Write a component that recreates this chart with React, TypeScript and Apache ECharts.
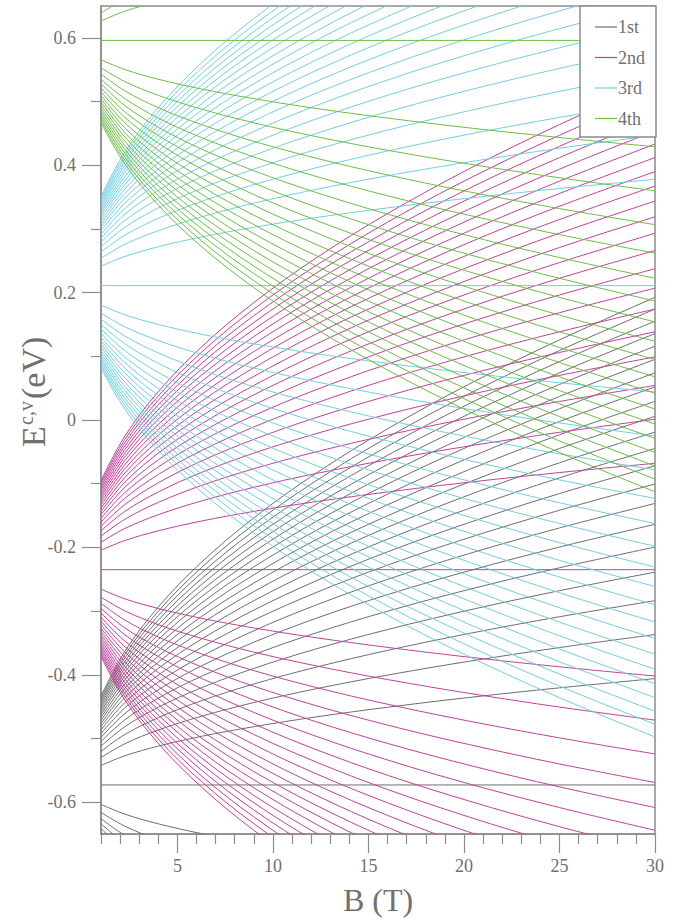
import React, { useEffect, useRef } from "react";
import * as echarts from "echarts";

// Magnetic field values at which each Landau level is sampled (T)
const FIELD_T = [1, 2.25, 4, 6.25, 9, 12.25, 16, 20.25, 25, 30];

// Distance of level n = 1, 2, 3, ... from its band's n = 0 level (eV), at each FIELD_T value
const LEVEL_OFFSETS = [
  [0.0305, 0.0458, 0.061, 0.0763, 0.0915, 0.1068, 0.122, 0.1373, 0.1525, 0.167],
  [0.0431, 0.0647, 0.0863, 0.1078, 0.1294, 0.151, 0.1725, 0.1941, 0.2157, 0.2362],
  [0.0528, 0.0792, 0.1057, 0.1321, 0.1585, 0.1849, 0.2113, 0.2377, 0.2641, 0.2893],
  [0.061, 0.0915, 0.122, 0.1525, 0.183, 0.2135, 0.244, 0.2745, 0.305, 0.3341],
  [0.0682, 0.1023, 0.1364, 0.1705, 0.2046, 0.2387, 0.2728, 0.3069, 0.341, 0.3735],
  [0.0747, 0.1121, 0.1494, 0.1868, 0.2241, 0.2615, 0.2988, 0.3362, 0.3735, 0.4092],
  [0.0807, 0.121, 0.1614, 0.2017, 0.2421, 0.2824, 0.3228, 0.3631, 0.4035, 0.442],
  [0.0863, 0.1294, 0.1725, 0.2157, 0.2588, 0.3019, 0.3451, 0.3882, 0.4313, 0.4725],
  [0.0915, 0.1373, 0.183, 0.2288, 0.2745, 0.3203, 0.366, 0.4118, 0.4575, 0.5011],
  [0.0964, 0.1447, 0.1929, 0.2411, 0.2893, 0.3376, 0.3858, 0.434, 0.4822, 0.5282],
  [0.1012, 0.1517, 0.2023, 0.2529, 0.3035, 0.354, 0.4046, 0.4552, 0.5058, 0.554],
  [0.1057, 0.1585, 0.2113, 0.2641, 0.317, 0.3698, 0.4226, 0.4754, 0.5283, 0.5787],
  [0.11, 0.165, 0.2199, 0.2749, 0.3299, 0.3849, 0.4399, 0.4949, 0.5498, 0.6023],
  [0.1141, 0.1712, 0.2282, 0.2853, 0.3424, 0.3994, 0.4565, 0.5135, 0.5706, 0.625],
  [0.1181, 0.1772, 0.2363, 0.2953, 0.3544, 0.4134, 0.4725, 0.5316, 0.5906, 0.647],
  [0.122, 0.183, 0.244, 0.305, 0.366, 0.427, 0.488, 0.549, 0.61, 0.6682],
  [0.1258, 0.1886, 0.2515, 0.3144, 0.3773, 0.4401, 0.503, 0.5659, 0.6288, 0.6888],
  [0.1294, 0.1941, 0.2588, 0.3235, 0.3882, 0.4529, 0.5176, 0.5823, 0.647, 0.7087],
  [0.1329, 0.1994, 0.2659, 0.3324, 0.3988, 0.4653, 0.5318, 0.5983, 0.6647, 0.7281],
  [0.1364, 0.2046, 0.2728, 0.341, 0.4092, 0.4774, 0.5456, 0.6138, 0.682, 0.7471],
  [0.1398, 0.2097, 0.2795, 0.3494, 0.4193, 0.4892, 0.5591, 0.629, 0.6988, 0.7655],
];

const BANDS = ["1st", "2nd", "3rd", "4th"];
// n = 0 level of each band (eV), flat in B
const ZERO_LEVELS = [-0.573, -0.235, 0.211, 0.596];
// how many levels are drawn above and below the n = 0 level
const UPPER_COUNTS = [21, 21, 21, 21];
const LOWER_COUNTS = [20, 20, 18, 18];
const COLORS = ["#6e6e6e", "#c2409c", "#70cfe2", "#6cbd46"];

const X_MAJOR = [5, 10, 15, 20, 25, 30];
const X_MINOR = [1, 2, 3, 4, 6, 7, 8, 9, 11, 12, 13, 14, 16, 17, 18, 19, 21, 22, 23, 24, 26, 27, 28, 29];
const Y_MAJOR = [-0.6, -0.4, -0.2, 0, 0.2, 0.4, 0.6];
const Y_MINOR = [-0.5, -0.3, -0.1, 0.1, 0.3, 0.5];

const FONT = "'Liberation Serif', 'DejaVu Serif', serif";
const AXIS = "#8c8c8c";
const TEXT = "#707070";

function buildSeries() {
  const out: any[] = [];
  BANDS.forEach((name, g) => {
    const base = {
      type: "line",
      name,
      symbol: "none",
      showSymbol: false,
      silent: true,
      clip: true,
      smooth: 0.35,
      z: 2 + g,
      lineStyle: { color: COLORS[g], width: 1 },
    };
    out.push({ ...base, smooth: false, data: [[1, ZERO_LEVELS[g]], [30, ZERO_LEVELS[g]]] });
    for (let n = 0; n < UPPER_COUNTS[g]; n++) {
      out.push({ ...base, data: FIELD_T.map((b, i) => [b, ZERO_LEVELS[g] + LEVEL_OFFSETS[n][i]]) });
    }
    for (let n = 0; n < LOWER_COUNTS[g]; n++) {
      out.push({ ...base, data: FIELD_T.map((b, i) => [b, ZERO_LEVELS[g] - LEVEL_OFFSETS[n][i]]) });
    }
  });
  return out;
}

function legendGraphic() {
  const items: any[] = [
    {
      type: "rect",
      shape: { x: 580, y: 6, width: 76, height: 131 },
      style: { fill: "#ffffff", stroke: AXIS, lineWidth: 1.5 },
      z: 100,
    },
  ];
  BANDS.forEach((name, g) => {
    const y = 27 + g * 30.5;
    items.push({
      type: "line",
      shape: { x1: 595, y1: y, x2: 617, y2: y },
      style: { stroke: COLORS[g], lineWidth: 1.2 },
      z: 101,
    });
    items.push({
      type: "text",
      x: 618,
      y,
      style: { text: name, fill: TEXT, font: `18px ${FONT}`, verticalAlign: "middle", align: "left" },
      z: 101,
    });
  });
  return items;
}

function titleGraphic() {
  return [
    {
      type: "text",
      x: 378,
      y: 900,
      style: { text: "B (T)", fill: TEXT, font: `32px ${FONT}`, align: "center", verticalAlign: "middle" },
    },
    {
      type: "group",
      x: 50,
      y: 447,
      rotation: Math.PI / 2,
      children: [
        {
          type: "text",
          x: 0,
          y: 0,
          style: { text: "E", fill: TEXT, font: `34px ${FONT}`, align: "left", verticalAlign: "bottom" },
        },
        {
          type: "text",
          x: 22,
          y: -14,
          style: { text: "c,v", fill: TEXT, font: `20px ${FONT}`, align: "left", verticalAlign: "bottom" },
        },
        {
          type: "text",
          x: 48,
          y: 0,
          style: { text: "(eV)", fill: TEXT, font: `34px ${FONT}`, align: "left", verticalAlign: "bottom" },
        },
      ],
    },
  ];
}

export default function App() {
  const ref = useRef<HTMLDivElement>(null);

  useEffect(() => {
    if (!ref.current) return;
    const chart = echarts.init(ref.current, null, { renderer: "svg" });
    const labelStyle = { color: TEXT, fontSize: 18, fontFamily: FONT };
    chart.setOption({
      animation: false,
      backgroundColor: "#ffffff",
      grid: {
        left: 101,
        top: 6,
        right: 35,
        bottom: 85,
        show: true,
        borderColor: AXIS,
        borderWidth: 1.5,
        backgroundColor: "transparent",
      },
      xAxis: [
        {
          type: "value",
          position: "bottom",
          min: 1,
          max: 30,
          axisLine: { onZero: false, lineStyle: { color: AXIS, width: 1.5 } },
          axisTick: { customValues: X_MAJOR, length: 19, lineStyle: { color: AXIS, width: 1.2 } },
          axisLabel: { customValues: X_MAJOR, margin: 23, ...labelStyle },
          splitLine: { show: false },
        },
        {
          type: "value",
          position: "bottom",
          min: 1,
          max: 30,
          axisLine: { show: false, onZero: false },
          axisTick: { customValues: X_MINOR, length: 10, lineStyle: { color: AXIS, width: 1.2 } },
          axisLabel: { show: false },
          splitLine: { show: false },
        },
      ],
      yAxis: [
        {
          type: "value",
          position: "left",
          min: -0.65,
          max: 0.65,
          axisLine: { onZero: false, lineStyle: { color: AXIS, width: 1.5 } },
          axisTick: { customValues: Y_MAJOR, length: 19, lineStyle: { color: AXIS, width: 1.2 } },
          axisLabel: { customValues: Y_MAJOR, margin: 25, ...labelStyle },
          splitLine: { show: false },
        },
        {
          type: "value",
          position: "left",
          min: -0.65,
          max: 0.65,
          axisLine: { show: false, onZero: false },
          axisTick: { customValues: Y_MINOR, length: 10, lineStyle: { color: AXIS, width: 1.2 } },
          axisLabel: { show: false },
          splitLine: { show: false },
        },
      ],
      series: buildSeries(),
      graphic: [...titleGraphic(), ...legendGraphic()],
    });
    return () => chart.dispose();
  }, []);

  return (
    <div
      ref={ref}
      style={{ position: "fixed", left: 0, top: 0, width: "690px", height: "919px", background: "#fff" }}
    />
  );
}
